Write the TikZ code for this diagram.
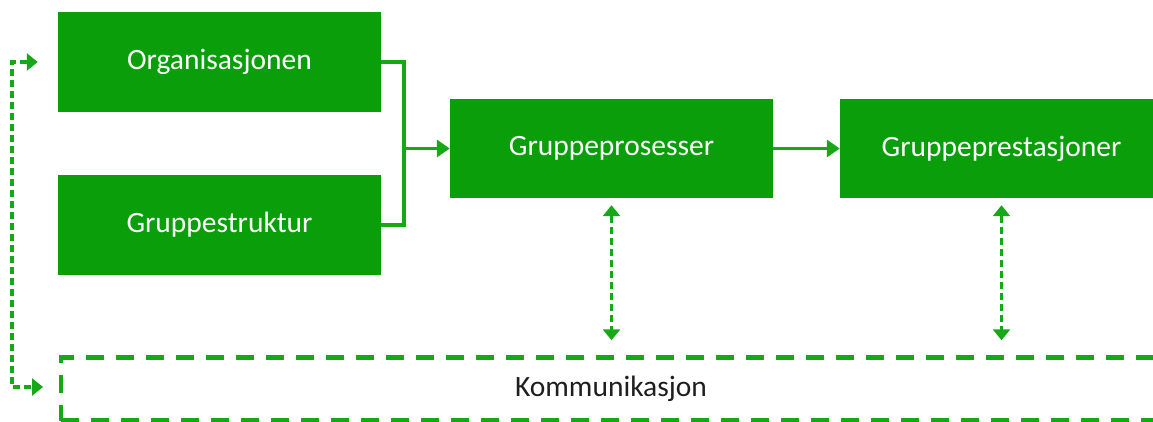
\documentclass[tikz,border=0pt]{standalone}
\usepackage{fontspec}
\setmainfont{Carlito}
\usetikzlibrary{arrows.meta}

\definecolor{boxgreen}{RGB}{10,158,10}
\definecolor{linegreen}{RGB}{22,168,22}
\definecolor{labelgray}{RGB}{30,30,30}

\tikzset{
  block/.style={fill=boxgreen, draw=none, text=white, minimum width=323pt,
    minimum height=100pt, inner sep=0pt, font=\fontsize{29.5}{34}\selectfont},
  commbox/.style={draw=linegreen, line width=4.5pt, dash pattern=on 18pt off 12pt,
    minimum width=1100pt, minimum height=63pt, inner sep=0pt,
    text=labelgray, font=\fontsize{29.5}{34}\selectfont},
  flow/.style={draw=linegreen, line width=3.5pt,
    -{Triangle[length=13pt,width=17pt]}},
  link/.style={draw=linegreen, line width=3.5pt},
  dlink/.style={draw=linegreen, line width=3.5pt, dash pattern=on 7pt off 4pt,
    {Triangle[length=11pt,width=17pt]}-{Triangle[length=11pt,width=17pt]}},
}

\begin{document}
\begin{tikzpicture}[x=1pt, y=-1pt]
  \useasboundingbox (0,0) rectangle (1153,421);
  \clip (0,0) rectangle (1153,421);

  % main blocks
  \node[block] (org)    at (219.5, 62)   {Organisasjonen};
  \node[block] (struct) at (219.5, 225)  {Gruppestruktur};
  \node[block, minimum height=99pt] (proc) at (611.5, 148.5) {Gruppeprosesser};
  \node[block, minimum height=99pt] (perf) at (1001.5, 148.5) {Gruppeprestasjoner};

  % communication frame
  \node[commbox] (komm) at (611, 389) {Kommunikasjon};

  % merging inputs into the process block
  \coordinate (join) at (404, 148.5);
  \draw[link] (org.east) -| (join) |- (struct.east);
  \draw[flow] (join) -- (proc.west);
  \draw[flow] (proc.east) -- (perf.west);

  % two-way links to communication
  \draw[dlink] ([yshift=-7pt]proc.south) -- ([yshift=15pt]komm.north -| proc.south);
  \draw[dlink] ([yshift=-7pt]perf.south) -- ([yshift=15pt]komm.north -| perf.south);

  % feedback loop on the left
  \coordinate (topend) at ([xshift=-20pt]org.west);
  \coordinate (botend) at (43, 387);
  \coordinate (loopx) at (12, 0);
  \draw[dlink] (topend) -- (loopx |- org.west) -- (loopx |- botend) -- (botend);
\end{tikzpicture}
\end{document}
